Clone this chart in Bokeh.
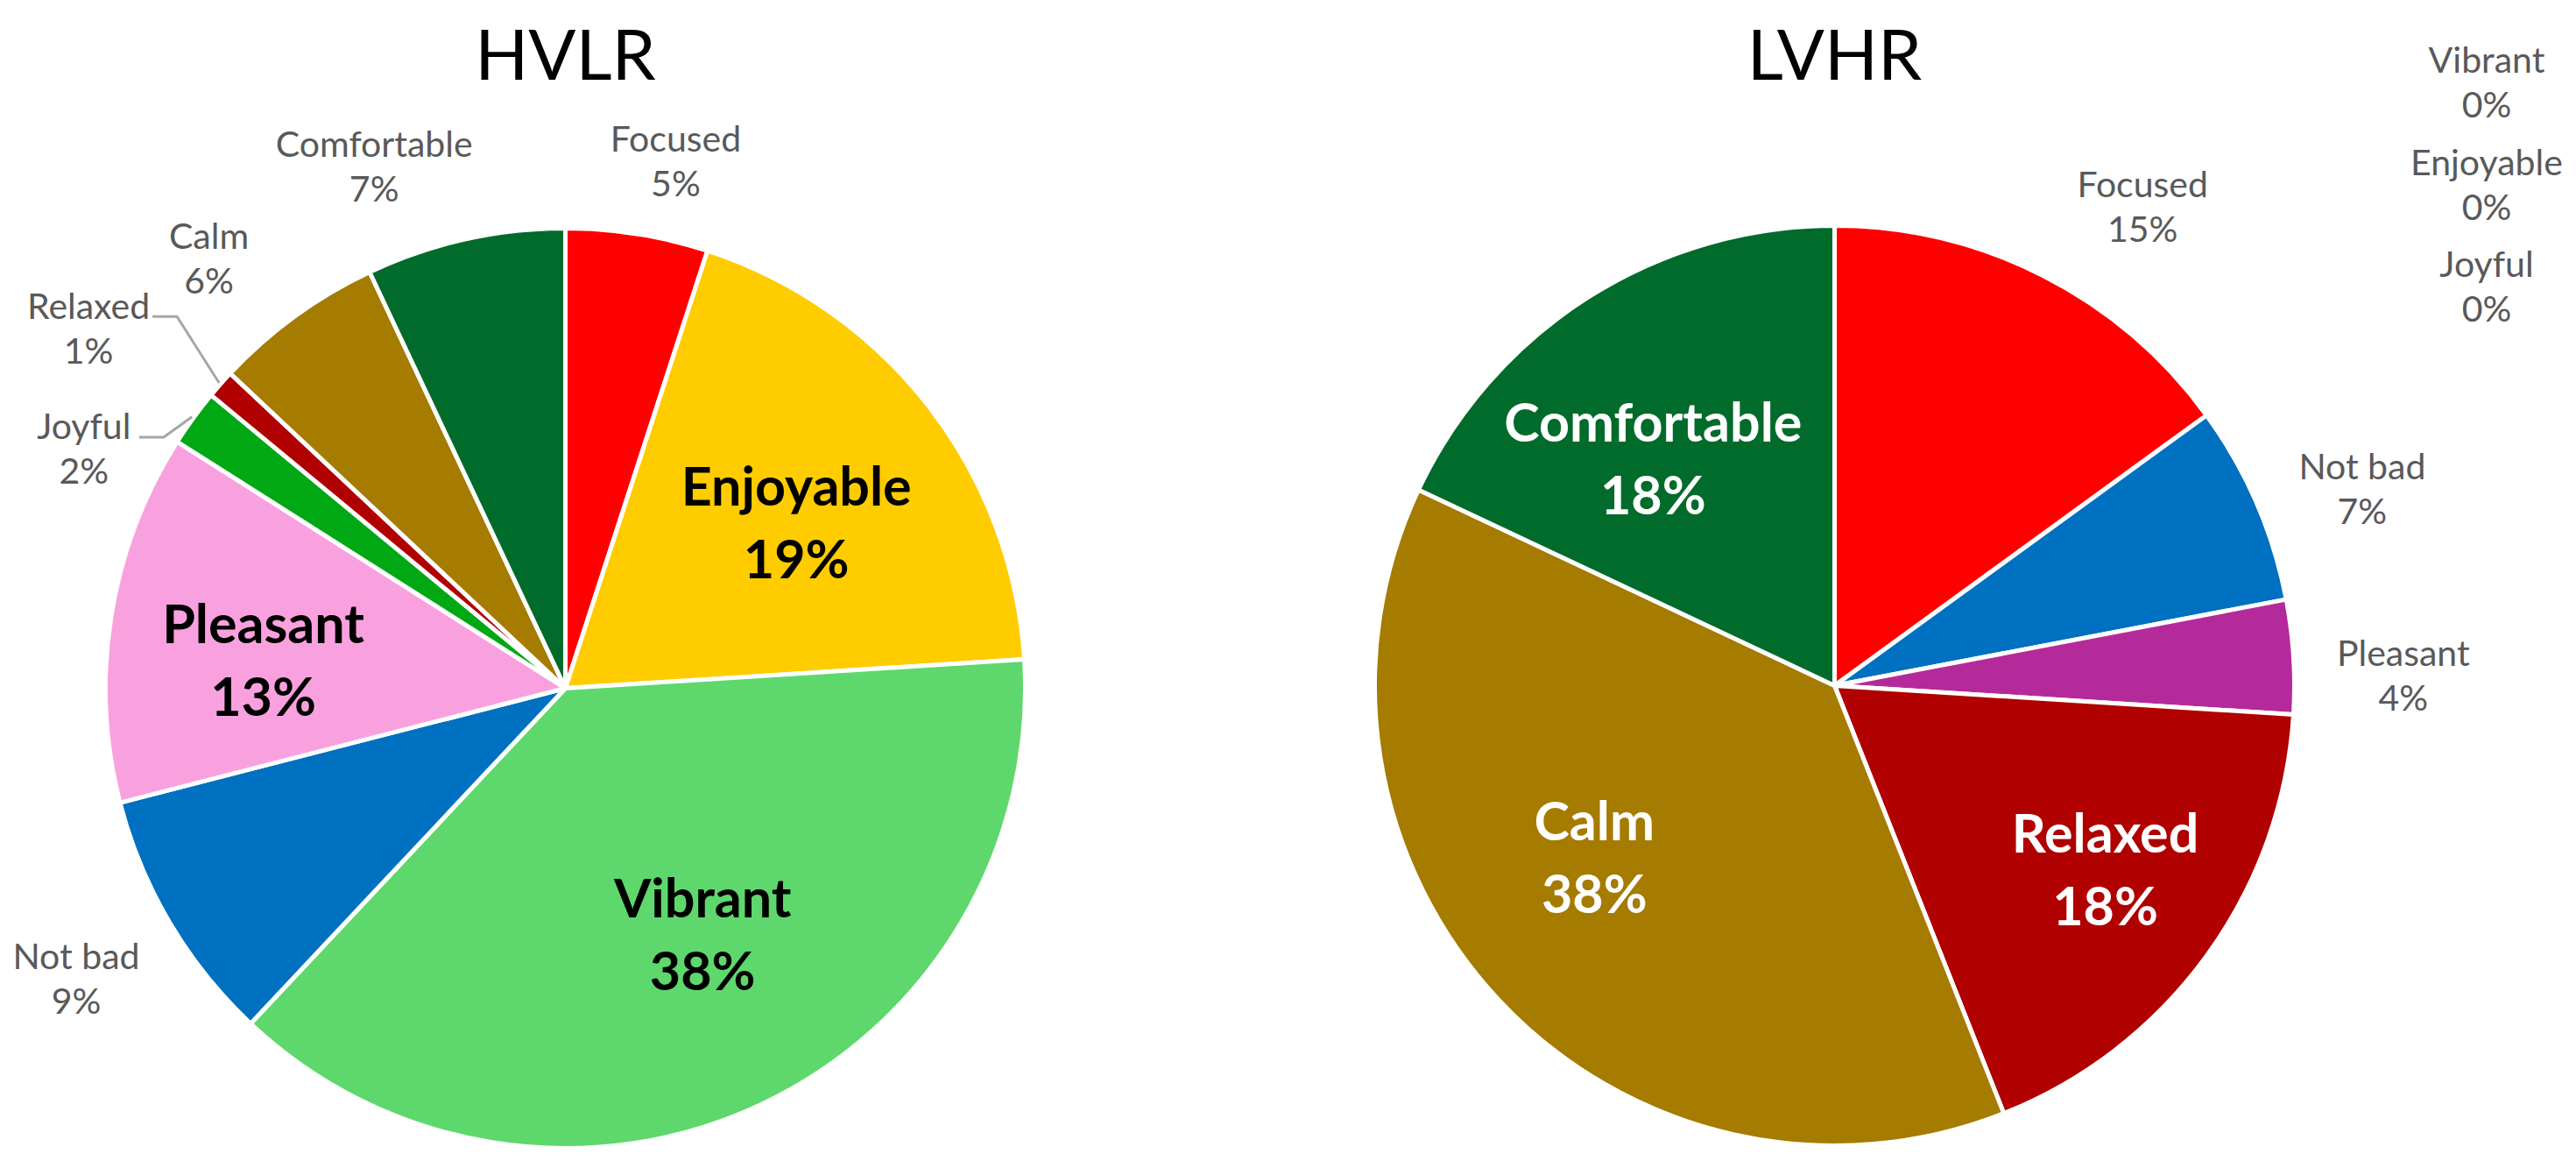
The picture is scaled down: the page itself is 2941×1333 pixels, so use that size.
import math
from bokeh.plotting import figure
from bokeh.models import ColumnDataSource, Range1d
from bokeh.core.properties import value
from bokeh.embed import file_html
from bokeh.resources import INLINE

# ---------------- data ----------------
categories = ["Focused", "Enjoyable", "Vibrant", "Not bad", "Pleasant",
              "Joyful", "Relaxed", "Calm", "Comfortable"]
hvlr_values = [5, 19, 38, 9, 13, 2, 1, 6, 7]
lvhr_values = [15, 0, 0, 7, 4, 0, 18, 38, 18]
pie_titles = ["HVLR", "LVHR"]

# ---------------- styles ----------------
hvlr_colors = ["#FF0000", "#FFCC00", "#5ED86C", "#0070C0", "#F9A1DF",
               "#00A814", "#B00000", "#A57B00", "#006B2B"]
lvhr_colors = ["#FF0000", "#FFCC00", "#5ED86C", "#0070C0", "#B52A9A",
               "#00A814", "#B00000", "#A57B00", "#006B2B"]
inside_text_colors = ["#000000", "#FFFFFF"]

# label placement relative to each slice: (angle nudge in degrees, radius factor)
hvlr_label_style = {
    "Focused": (2.8, 1.173), "Enjoyable": (1.9, 0.62), "Vibrant": (-4.1, 0.61),
    "Not bad": (0.0, 1.236), "Pleasant": (-3.5, 0.66), "Joyful": (-9.5, 1.17),
    "Relaxed": (-4.3, 1.30), "Calm": (-3.6, 1.216), "Comfortable": (-7.5, 1.21),
}
lvhr_label_style = {
    "Focused": (5.7, 1.24), "Not bad": (2.9, 1.225), "Pleasant": (2.5, 1.237),
    "Relaxed": (-2.0, 0.71), "Calm": (7.9, 0.64), "Comfortable": (-6.1, 0.634),
}
zero_stack_order = ["Vibrant", "Enjoyable", "Joyful"]

FONT = "Lato"
OUT_FS, OUT_GAP = 41, 51       # outside labels: font px, line spacing
IN_FS, IN_GAP = 61, 83         # inside labels
TITLE_FS = 80
OUT_COLOR = "#595959"
LEADER_COLOR = "#A6A6A6"

# ---------------- layout (screen px of the page) ----------------
PAGE_H = 1333
FIG_W, FIG_H = 2925, 1317
PIE_CENTERS = [(645, 785), (2094, 782)]
RADIUS = 525
TITLE_Y = 59

def Y(ys):
    return PAGE_H - ys

p = figure(width=FIG_W, height=FIG_H,
           x_range=Range1d(0, FIG_W), y_range=Range1d(PAGE_H - FIG_H, PAGE_H),
           output_backend="svg", toolbar_location=None, tools="",
           x_axis_location=None, y_axis_location=None, min_border=0)
p.grid.visible = False
p.outline_line_color = None
p.background_fill_color = "white"
p.border_fill_color = "white"


def draw_pie(vals, colors, center, title, label_style, inside_color):
    cx, cy = center[0], Y(center[1])
    total = float(sum(vals))
    xs, ys, sa, ea, fc = [], [], [], [], []
    mids = []
    cum = 0.0
    for v, c in zip(vals, colors):
        f0 = cum / total
        f1 = (cum + v) / total
        mids.append(360.0 * (f0 + f1) / 2.0)
        if v > 0:
            xs.append(cx); ys.append(cy)
            sa.append(math.pi / 2 - 2 * math.pi * f1)
            ea.append(math.pi / 2 - 2 * math.pi * f0)
            fc.append(c)
        cum += v
    src = ColumnDataSource(dict(x=xs, y=ys, sa=sa, ea=ea, fc=fc))
    p.wedge(x="x", y="y", radius=RADIUS, start_angle="sa", end_angle="ea",
            fill_color="fc", line_color="white", line_width=5, source=src)

    # the three largest slices get bold labels inside
    order = sorted(range(len(vals)), key=lambda i: -vals[i])
    inside = set(order[:3])

    lab = {k: [] for k in ["x", "y", "t"]}
    inl = {k: [] for k in ["x", "y", "t"]}
    leaders_x, leaders_y = [], []
    for i, (name, v) in enumerate(zip(categories, vals)):
        pct = f"{v:.0f}%"
        if v == 0:
            k = zero_stack_order.index(name)
            lx = cx + 1.418 * RADIUS
            ly = cy + (1.313 - 0.222 * k) * RADIUS
            lab["x"] += [lx, lx]; lab["y"] += [ly + OUT_GAP / 2, ly - OUT_GAP / 2]
            lab["t"] += [name, pct]
            continue
        dth, rf = label_style[name]
        th = math.radians(mids[i] + dth)
        lx = cx + rf * RADIUS * math.sin(th)
        ly = cy + rf * RADIUS * math.cos(th)
        if i in inside:
            inl["x"] += [lx, lx]; inl["y"] += [ly + IN_GAP / 2, ly - IN_GAP / 2]
            inl["t"] += [name, pct]
        else:
            lab["x"] += [lx, lx]; lab["y"] += [ly + OUT_GAP / 2, ly - OUT_GAP / 2]
            lab["t"] += [name, pct]
            if v < 3:
                tm = math.radians(mids[i])
                ax = cx + (RADIUS + 2) * math.sin(tm)
                ay = cy + (RADIUS + 2) * math.cos(tm)
                ex = lx + 0.48 * OUT_FS * len(name) / 2 + 4
                ey = ly + OUT_GAP / 2 - 13
                leaders_x.append([ex, ex + 28, ax])
                leaders_y.append([ey, ey, ay])
    if leaders_x:
        p.multi_line(xs=leaders_x, ys=leaders_y, line_color=LEADER_COLOR, line_width=3)
    p.text(x="x", y="y", text="t", source=ColumnDataSource(lab),
           text_font=value(FONT), text_font_size=f"{OUT_FS}px", text_color=OUT_COLOR,
           text_align="center", text_baseline="middle")
    p.text(x="x", y="y", text="t", source=ColumnDataSource(inl),
           text_font=value(FONT), text_font_size=f"{IN_FS}px", text_color=inside_color,
           text_font_style="bold", text_align="center", text_baseline="middle")
    p.text(x=[cx], y=[Y(TITLE_Y)], text=[title], text_font=value(FONT),
           text_font_size=f"{TITLE_FS}px", text_color="#000000",
           text_align="center", text_baseline="middle")


draw_pie(hvlr_values, hvlr_colors, PIE_CENTERS[0], pie_titles[0],
         hvlr_label_style, inside_text_colors[0])
draw_pie(lvhr_values, lvhr_colors, PIE_CENTERS[1], pie_titles[1],
         lvhr_label_style, inside_text_colors[1])

open("out.html", "w").write(file_html(p, INLINE))
